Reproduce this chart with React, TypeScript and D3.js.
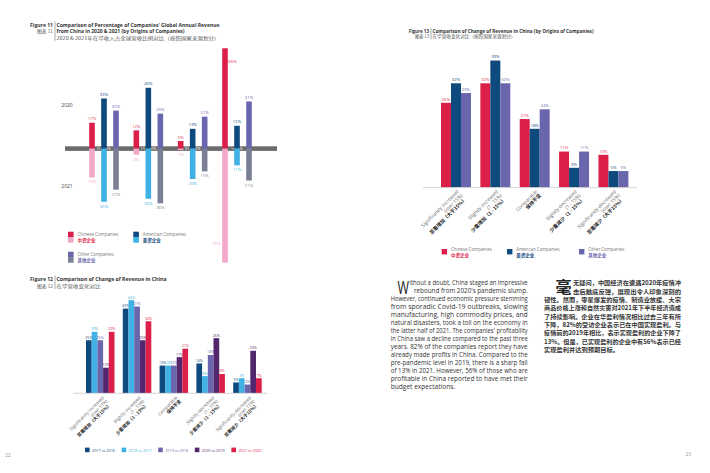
import { useRef, useEffect } from "react";
import * as d3 from "d3";

const FONT = "'Open Sans', 'Noto Sans CJK SC', sans-serif";
const CJK = "'Noto Sans CJK SC', 'Open Sans', sans-serif";

const COL = {
  red: "#dc1f48",
  navy: "#0e4a7e",
  purple: "#6a66ae",
  pink: "#f1a8c9",
  sky: "#3fb1e3",
  slate: "#7a7f95",
  plum: "#53276d",
  band: "#6b6b6b",
};

// Figure 11 – share of global revenue from China
const SHARE_BUCKETS = ["0 - 10%", "11 - 30%", "31 - 60%", "> 60%"];
const SHARE_2020_CN = [17, 12, 5, 66];
const SHARE_2020_US = [33, 40, 13, 15];
const SHARE_2020_OT = [25, 23, 21, 31];
const SHARE_2021_CN = [19, 4, 1, 75];
const SHARE_2021_US = [35, 33, 20, 11];
const SHARE_2021_OT = [27, 36, 15, 21];

// Figure 12 / 13 – change of revenue categories
const CHANGE_CATS = ["sigInc", "slightInc", "comparable", "slightDec", "sigDec"];
const CHANGE_LABELS: string[][] = [
  ["Significantly increased", "(over 15%)", "显著增加（大于15%）"],
  ["Slightly increased", "(1 - 15%)", "少量增加（1 - 15%）"],
  ["Comparable", "保持不变"],
  ["Slightly decreased", "(1 - 15%)", "少量减少（1 - 15%）"],
  ["Significantly decreased", "(over 15%)", "显著减少（大于15%）"],
];

// Figure 12 – year over year
const YEARS = ["2017 vs 2016", "2018 vs 2017", "2019 vs 2018", "2020 vs 2019", "2021 vs 2020"];
const Y2017 = [25, 40, 13, 14, 5];
const Y2018 = [29, 44, 13, 8, 7];
const Y2019 = [25, 41, 13, 18, 4];
const Y2020 = [12, 25, 17, 26, 20];
const Y2021 = [29, 34, 21, 9, 7];

// Figure 13 – by origin
const ORIGIN_CN = [26, 32, 21, 11, 10];
const ORIGIN_US = [32, 39, 18, 6, 5];
const ORIGIN_OT = [29, 32, 24, 11, 5];

const ORIGINS = [
  { key: "cn", en: "Chinese Companies", zh: "中资企业", c: COL.red, c2: COL.pink },
  { key: "us", en: "American Companies", zh: "美资企业", c: COL.navy, c2: COL.sky },
  { key: "ot", en: "Other Companies", zh: "其他企业", c: COL.purple, c2: COL.slate },
];

const EN_TEXT = [
  "ithout a doubt, China staged an impressive",
  "rebound from 2020's pandemic slump.",
  "However, continued economic pressure stemming",
  "from sporadic Covid-19 outbreaks, slowing",
  "manufacturing, high commodity prices, and",
  "natural disasters, took a toll on the economy in",
  "the latter half of 2021. The companies' profitability",
  "in China saw a decline compared to the past three",
  "years. 82% of the companies report they have",
  "already made profits in China. Compared to the",
  "pre-pandemic level in 2019, there is a sharp fall",
  "of 13% in 2021. However, 56% of those who are",
  "profitable in China reported to have met their",
  "budget expectations.",
];

const ZH_TEXT = [
  "无疑问，中国经济在遭遇2020年疫情冲",
  "击后触底反弹，展现出令人印象深刻的",
  "韧性。然而，零星爆发的疫情、制造业放缓、大宗",
  "商品价格上涨和自然灾害对2021年下半年经济造成",
  "了持续影响。企业在华盈利情况相比过去三年有所",
  "下降，82%的受访企业表示已在中国实现盈利。与",
  "疫情前的2019年相比，表示实现盈利的企业下降了",
  "13%。但是，已实现盈利的企业中有56%表示已经",
  "实现盈利并达到预期目标。",
];

type Sel = d3.Selection<SVGGElement, unknown, null, undefined>;

function txt(
  g: Sel, x: number, y: number, s: string,
  o: { size?: number; fill?: string; weight?: number; anchor?: string; family?: string; len?: number } = {}
) {
  const t = g.append("text")
    .attr("x", x).attr("y", y)
    .attr("font-size", o.size ?? 5)
    .attr("fill", o.fill ?? "#444")
    .attr("font-weight", o.weight ?? 400)
    .attr("text-anchor", o.anchor ?? "start")
    .attr("font-family", o.family ?? FONT)
    .text(s);
  if (o.len) t.attr("textLength", o.len).attr("lengthAdjust", "spacingAndGlyphs");
  return t;
}

function title(
  g: Sel, x: number, y: number, fig: string, zhFig: string,
  lines: { s: string; len: number; bold: boolean }[], lh: number, size = 5.2
) {
  txt(g, x - 2, y, fig, { size, weight: 700, fill: "#333", anchor: "end", len: fig.length * size * 0.49 });
  txt(g, x - 2, y + lh, zhFig, { size: size - 0.4, fill: "#555", anchor: "end", family: CJK });
  g.append("line").attr("x1", x).attr("x2", x).attr("y1", y - size).attr("y2", y + lh * Math.max(1, lines.length - 1) + 1.5)
    .attr("stroke", "#555").attr("stroke-width", 0.5);
  lines.forEach((l, i) => {
    txt(g, x + 1.5, y + i * lh, l.s, {
      size: l.bold ? size : size - 0.4, weight: l.bold ? 700 : 400, fill: l.bold ? "#333" : "#555",
      len: l.len, family: l.bold ? FONT : CJK,
    });
  });
}

function catLabels(g: Sel, cx: (i: number) => number, y0: number, size: number) {
  CHANGE_LABELS.forEach((lines, i) => {
    const t = g.append("text")
      .attr("transform", `translate(${cx(i)},${y0}) rotate(-45)`)
      .attr("text-anchor", "end")
      .attr("font-size", size);
    lines.forEach((l, j) => {
      const zh = j === lines.length - 1 && /[\u4e00-\u9fff]/.test(l);
      t.append("tspan").attr("x", 0).attr("dy", j === 0 ? 0 : size * 1.1)
        .attr("font-family", zh ? CJK : FONT)
        .attr("font-weight", zh ? 700 : 400)
        .attr("fill", zh ? "#222" : "#666")
        .text(l);
    });
  });
}

export default function App() {
  const ref = useRef<SVGSVGElement>(null);

  useEffect(() => {
    if (!ref.current) return;
    const svg = d3.select(ref.current);
    svg.selectAll("*").remove();
    const root = svg.append("g") as unknown as Sel;

    // ---------- Figure 11 ----------
    const g11 = root.append("g") as Sel;
    title(g11, 55, 26.7, "Figure 11", "图表 11", [
      { s: "Comparison of Percentage of Companies' Global Annual Revenue", len: 163, bold: true },
      { s: "from China in 2020 & 2021 (by Origins of Companies)", len: 128, bold: true },
      { s: "2020 & 2021年在华收入占全球营收比例对比（按照国家来源划分）", len: 163, bold: false },
    ], 6.5);

    const x11 = d3.scalePoint<string>().domain(SHARE_BUCKETS).range([104, 237]);
    const in11 = d3.scalePoint<string>().domain(["cn", "us", "ot"]).range([-12, 12]);
    const bw11 = 5.6;
    const axY = 148.6;
    const up = d3.scaleLinear().domain([0, 100]).range([axY, axY - 152]);
    const dn = d3.scaleLinear().domain([0, 100]).range([axY, axY + 152]);

    g11.append("rect").attr("x", 65).attr("y", axY - 2.3).attr("width", 212).attr("height", 4.6).attr("fill", COL.band);
    SHARE_BUCKETS.forEach((b) => {
      txt(g11, x11(b)!, axY + 1.5, b, { size: 4, fill: "#fff", anchor: "middle" });
    });
    txt(g11, 67, 106.8, "2020", { size: 5, fill: "#444", anchor: "middle" });
    txt(g11, 67, 187.8, "2021", { size: 5, fill: "#444", anchor: "middle" });

    const s20 = [SHARE_2020_CN, SHARE_2020_US, SHARE_2020_OT];
    const s21 = [SHARE_2021_CN, SHARE_2021_US, SHARE_2021_OT];
    ORIGINS.forEach((o, k) => {
      SHARE_BUCKETS.forEach((b, i) => {
        const cx = x11(b)! + in11(o.key)!;
        const v1 = s20[k][i];
        const v2 = s21[k][i];
        g11.append("rect").attr("x", cx - bw11 / 2).attr("y", up(v1)).attr("width", bw11)
          .attr("height", up(0) - up(v1)).attr("fill", o.c);
        g11.append("rect").attr("x", cx - bw11 / 2).attr("y", dn(0)).attr("width", bw11)
          .attr("height", dn(v2) - dn(0)).attr("fill", o.c2);
        if (v1 > 60) txt(g11, cx + 7.5, up(v1) + 15, `${v1}%`, { size: 4.2, fill: o.c, anchor: "middle" });
        else txt(g11, cx, up(v1) - 2.5, `${v1}%`, { size: 4.2, fill: o.c, anchor: "middle" });
        if (v2 > 60) txt(g11, cx - 8.5, dn(v2) - 18, `${v2}%`, { size: 4.2, fill: o.c2, anchor: "middle" });
        else txt(g11, cx, dn(v2) + 6, `${v2}%`, { size: 4.2, fill: o.c2, anchor: "middle" });
      });
    });

    // legend 11
    ORIGINS.forEach((o, k) => {
      const lx = k === 1 ? 133.3 : 68;
      const ly = k === 2 ? 251.7 : 231.7;
      g11.append("rect").attr("x", lx).attr("y", ly).attr("width", 5.6).attr("height", 5.4).attr("fill", o.c);
      g11.append("rect").attr("x", lx).attr("y", ly + 5.4).attr("width", 5.6).attr("height", 5.6).attr("fill", o.c2);
      txt(g11, lx + 9.5, ly + 3.8, o.en, { size: 4.5, fill: "#777", len: o.en.length * 2.4 });
      txt(g11, lx + 9.5, ly + 10, o.zh, { size: 4.5, fill: o.c, weight: 700, family: CJK });
    });

    // ---------- Figure 12 ----------
    const g12 = root.append("g") as Sel;
    title(g12, 55, 280.7, "Figure 12", "图表 12", [
      { s: "Comparison of Change of Revenue in China", len: 110, bold: true },
      { s: "在华营收变化对比", len: 44, bold: false },
    ], 6.8);

    const x12 = d3.scaleBand<string>().domain(CHANGE_CATS).range([86, 261.7]).paddingInner(0.2255);
    const in12 = d3.scaleBand<string>().domain(YEARS).range([0, x12.bandwidth()]);
    const y12 = d3.scaleLinear().domain([0, 50]).range([393, 393 - 105.5]);
    const yearVals = [Y2017, Y2018, Y2019, Y2020, Y2021];
    const yearCols = [COL.navy, COL.sky, COL.purple, COL.plum, COL.red];

    YEARS.forEach((yr, k) => {
      CHANGE_CATS.forEach((c, i) => {
        const v = yearVals[k][i];
        const bx = x12(c)! + in12(yr)!;
        g12.append("rect").attr("x", bx).attr("y", y12(v)).attr("width", in12.bandwidth())
          .attr("height", y12(0) - y12(v)).attr("fill", yearCols[k]);
        txt(g12, bx + in12.bandwidth() / 2, y12(v) - 1.6, `${v}%`, { size: 3.6, fill: yearCols[k], anchor: "middle" });
      });
    });
    g12.append("line").attr("x1", 73).attr("x2", 267).attr("y1", 393.3).attr("y2", 393.3)
      .attr("stroke", "#c9c9c9").attr("stroke-width", 0.8);
    catLabels(g12, (i) => x12(CHANGE_CATS[i])! + x12.bandwidth() / 2 + 4, 398, 4.5);

    YEARS.forEach((yr, k) => {
      const lx = 85 + k * 36.6;
      g12.append("rect").attr("x", lx).attr("y", 447.6).attr("width", 4.6).attr("height", 4.6).attr("fill", yearCols[k]);
      txt(g12, lx + 7, 451.7, yr, { size: 4.3, fill: yearCols[k], len: 23 });
    });

    // ---------- Figure 13 ----------
    const g13 = root.append("g") as Sel;
    title(g13, 431, 32.5, "Figure 13", "图表 13", [
      { s: "Comparison of Change of Revenue in China (by Origins of Companies)", len: 161, bold: true },
      { s: "在华营收变化对比（按照国家来源划分）", len: 83, bold: false },
    ], 5.4, 4.6);

    const x13 = d3.scaleBand<string>().domain(CHANGE_CATS).range([441, 628.4]).paddingInner(0.2386);
    const in13 = d3.scaleBand<string>().domain(ORIGINS.map((o) => o.key)).range([0, x13.bandwidth()]);
    const y13 = d3.scaleLinear().domain([0, 40]).range([187.3, 187.3 - 130]);
    const originVals = [ORIGIN_CN, ORIGIN_US, ORIGIN_OT];

    ORIGINS.forEach((o, k) => {
      CHANGE_CATS.forEach((c, i) => {
        const v = originVals[k][i];
        const bx = x13(c)! + in13(o.key)!;
        g13.append("rect").attr("x", bx).attr("y", y13(v)).attr("width", in13.bandwidth())
          .attr("height", y13(0) - y13(v)).attr("fill", o.c);
        txt(g13, bx + in13.bandwidth() / 2, y13(v) - 2.2, `${v}%`, { size: 4.2, fill: o.c, anchor: "middle" });
      });
    });
    g13.append("line").attr("x1", 423).attr("x2", 637).attr("y1", 187.6).attr("y2", 187.6)
      .attr("stroke", "#c9c9c9").attr("stroke-width", 0.8);
    catLabels(g13, (i) => x13(CHANGE_CATS[i])! + x13.bandwidth() / 2 + 3, 192, 4.9);

    const leg13X = [441.7, 507, 579];
    ORIGINS.forEach((o, k) => {
      const lx = leg13X[k];
      g13.append("rect").attr("x", lx).attr("y", 249).attr("width", 5.4).attr("height", 5.4).attr("fill", o.c);
      txt(g13, lx + 9.3, 250.6, o.en, { size: 4.5, fill: "#777", len: o.en.length * 2.4 });
      txt(g13, lx + 9.3, 256.6, o.zh, { size: 4.5, fill: o.c, weight: 700, family: CJK });
    });

    // ---------- body text ----------
    const gt = root.append("g") as Sel;
    txt(gt, 397.5, 293.5, "W", { size: 17.5, fill: "#222", family: FONT, len: 11.5 });
    EN_TEXT.forEach((l, i) => {
      const x0 = i === 0 ? 409.5 : i === 1 ? 414 : 390.7;
      const last = i === EN_TEXT.length - 1;
      txt(gt, x0, 285 + i * 8.02, l, { size: 6.6, fill: "#333", len: last ? undefined : 527.7 - x0 });
    });

    txt(gt, 555.5, 292.5, "毫", { size: 16, fill: "#222", weight: 700, family: CJK });
    ZH_TEXT.forEach((l, i) => {
      const x0 = i < 2 ? 573 : 544;
      const last = i === ZH_TEXT.length - 1;
      txt(gt, x0, 285.3 + i * 8.33, l, { size: 5.9, fill: "#333", weight: 700, family: CJK, len: last ? 75 : 681 - x0 });
    });

    txt(gt, 5, 457, "22", { size: 5, fill: "#999" });
    txt(gt, 685.5, 456, "23", { size: 5, fill: "#999" });
  }, []);

  return (
    <svg
      ref={ref}
      width={710}
      height={473}
      style={{ position: "absolute", left: 0, top: 0, background: "#fff", display: "block" }}
    />
  );
}
